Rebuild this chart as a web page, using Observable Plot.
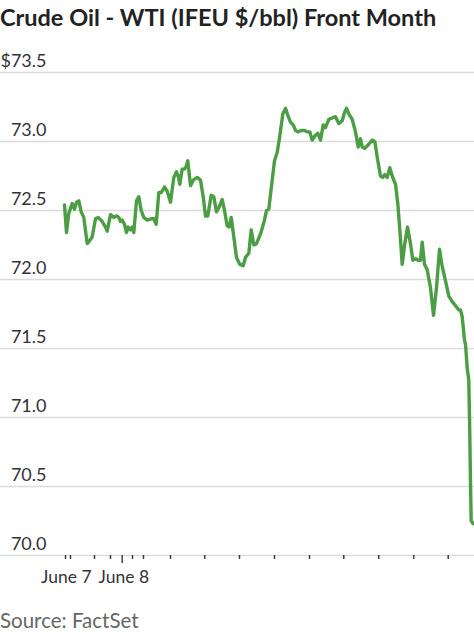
<!DOCTYPE html>
<html>
<head>
<meta charset="utf-8">
<script src="https://cdn.jsdelivr.net/npm/d3@7"></script>
<script src="https://cdn.jsdelivr.net/npm/@observablehq/plot@0.6"></script>
<style>
  body { margin: 0; background: #fff; width: 474px; overflow: hidden; font-family: Lato, "Noto Sans", sans-serif; }
  .title { font-weight: 700; font-size: 23.5px; height: 36px; line-height: 34px; color: #222; margin-left: 0; white-space: nowrap; }
  .source { font-size: 20.5px; color: #666; margin-top: 12px; margin-left: 0; }
  svg { display: block; }
</style>
</head>
<body>
<div class="title">Crude Oil - WTI (IFEU $/bbl) Front Month</div>
<div id="chart"></div>
<div class="source">Source: FactSet</div>
<script>
// time position (arbitrary intraday units along the axis) and price
const t = [3,5,7.3,10.7,13,15,17.3,19.7,22.3,25.7,28,30.7,34,36.7,40.7,44,45.7,49,52.3,55,57.3,59,60.7,63,65,66.7,69,70.7,72.3,75,77.3,79.7,82.3,85.7,89.7,92.3,94.7,97.3,99.7,103,105.7,109,112.3,115,116.7,118.3,120.7,123,124.7,126.3,129,131.7,135.7,139,141.7,144,146.3,149.7,152.3,155,157.3,160.7,163,165.7,167.7,169.7,172.3,175,178.3,181.7,184,187.3,189.7,192.3,195,199,203,205,207.3,210.7,213,215.7,218.3,221.3,224,226.3,229,231.7,234,236.3,239.7,243,245.7,248.3,250.7,253.3,256.3,259,261.7,264,267.3,270.7,274,277.3,280.7,283,285,287.3,290.7,294,296.7,299,300.7,303.3,307.3,310.7,313.3,316.3,319,321.3,323.3,325.7,328.3,330.7,334,336.3,338.3,340.7,343.3,346,349,351.3,354.3,356.7,359,360.7,363,365.7,369,372,375,378,380.3,384,387.3,390.7,394,397.3,399,400.7,403,404,405.7,407.3,408.3,409,409.7,411.7];
const price = [72.54,72.34,72.48,72.55,72.51,72.56,72.57,72.49,72.45,72.26,72.28,72.31,72.44,72.45,72.42,72.38,72.35,72.47,72.45,72.46,72.45,72.42,72.43,72.40,72.34,72.38,72.36,72.38,72.34,72.57,72.60,72.50,72.45,72.43,72.44,72.44,72.40,72.63,72.63,72.67,72.64,72.56,72.74,72.78,72.75,72.69,72.80,72.80,72.82,72.86,72.68,72.72,72.74,72.72,72.60,72.46,72.46,72.61,72.60,72.49,72.52,72.58,72.50,72.39,72.38,72.45,72.31,72.16,72.11,72.10,72.16,72.19,72.36,72.25,72.26,72.33,72.43,72.50,72.51,72.72,72.86,72.92,73.04,73.20,73.24,73.19,73.14,73.12,73.08,73.07,73.08,73.08,73.07,73.07,73.01,73.04,73.06,73.01,73.12,73.10,73.16,73.17,73.18,73.13,73.15,73.21,73.24,73.20,73.16,73.07,72.96,73.02,72.96,72.95,72.98,73.01,73.00,72.86,72.75,72.74,72.76,72.74,72.81,72.75,72.69,72.55,72.36,72.11,72.26,72.38,72.26,72.14,72.15,72.14,72.14,72.27,72.11,72.07,71.94,71.74,71.94,72.22,72.11,71.99,71.88,71.84,71.81,71.78,71.78,71.73,71.56,71.53,71.36,71.27,70.88,70.52,70.25,70.23];

const yTicks = [70.0, 70.5, 71.0, 71.5, 72.0, 72.5, 73.0, 73.5];
const yTickLabels = ["70.0", "70.5", "71.0", "71.5", "72.0", "72.5", "73.0", "$73.5"];
const xTicks = [4, 9, 33, 49, 71, 82, 109, 143.3, 178, 213, 248, 282.3, 317.3, 352.3, 386.7];
const xMajorTicks = [60.7];
const xLabelPos = [4.8, 62.3];
const xLabels = ["June 7", "June 8"];

const data = t.map((d, i) => ({t: d, v: price[i]}));
const yLab = yTicks.map((d, i) => ({y: d, label: yTickLabels[i]}));
const xLab = xLabelPos.map((d, i) => ({t: d, label: xLabels[i]}));

const W = 474, H = 560;
const chart = Plot.plot({
  width: W,
  height: H,
  marginTop: 36,
  marginBottom: 41,
  marginLeft: 0,
  marginRight: 0,
  style: {fontFamily: "Lato, 'Noto Sans', sans-serif", background: "#fff", overflow: "visible"},
  x: {domain: [0, 412], range: [61, 473]},
  y: {domain: [70, 73.5], axis: null},
  marks: [
    Plot.ruleY(yTicks, {stroke: "#dcdcdc", strokeWidth: 1.3}),
    Plot.text(yLab, {y: "y", text: "label", frameAnchor: "left", textAnchor: "end", dx: 46, dy: -11, fontSize: 18, fill: "#333"}),
    Plot.axisX({ticks: xTicks, tickSize: 4, tickFormat: () => "", stroke: "#333", strokeWidth: 1.4, label: null}),
    Plot.axisX({ticks: xMajorTicks, tickSize: 8, tickFormat: () => "", stroke: "#333", strokeWidth: 1.4, label: null}),
    Plot.text(xLab, {x: "t", text: "label", frameAnchor: "bottom", dy: 27, fontSize: 17.5, fill: "#333"}),
    Plot.line(data, {x: "t", y: "v", stroke: "#4c9e44", strokeWidth: 3.4, strokeLinejoin: "round", strokeLinecap: "round"})
  ]
});
document.getElementById("chart").appendChild(chart);
</script>
</body>
</html>
